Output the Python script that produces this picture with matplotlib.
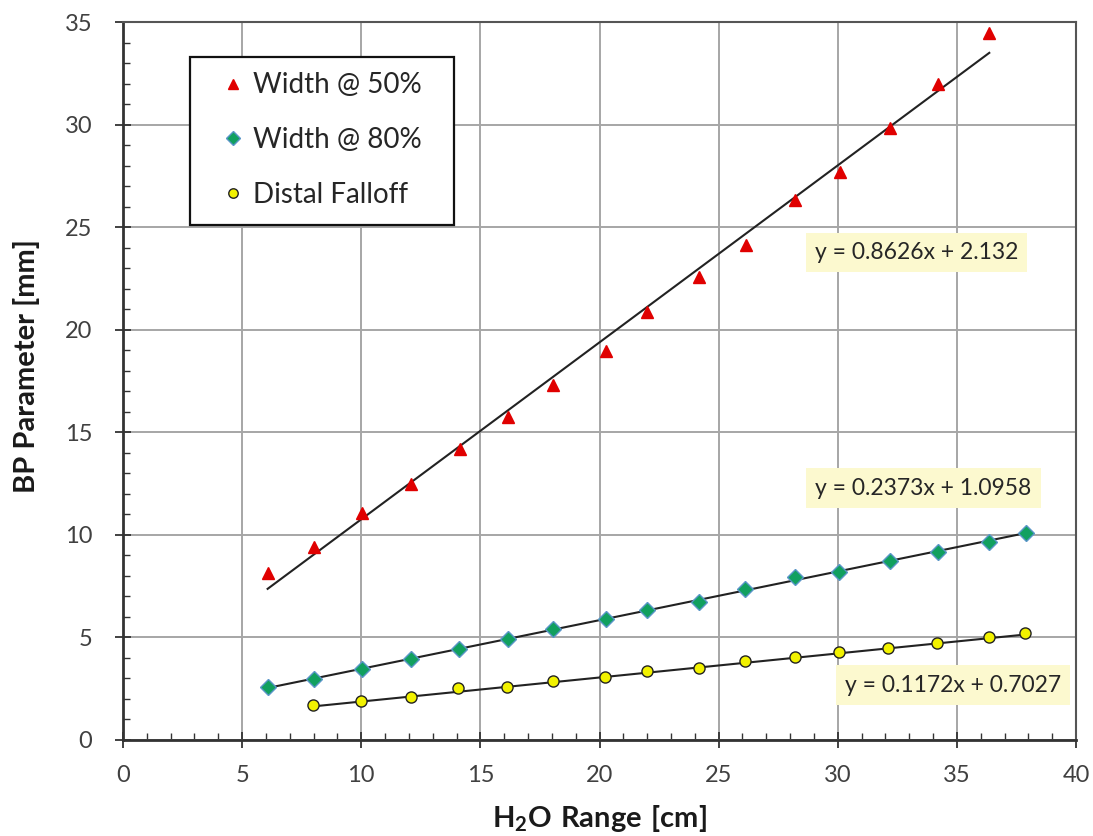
import numpy as np
import matplotlib
matplotlib.use("Agg")
import matplotlib.pyplot as plt
from matplotlib.ticker import MultipleLocator
from matplotlib.patches import Rectangle

# === DATA ===
x_50 = [6.07, 8.02, 10.02, 12.10, 14.15, 16.15, 18.06, 20.27, 22.00, 24.19,
        26.14, 28.20, 30.10, 32.20, 34.20, 36.36]
w_50 = [8.13, 9.42, 11.05, 12.48, 14.17, 15.73, 17.30, 18.98, 20.88, 22.59,
        24.13, 26.34, 27.70, 29.82, 32.00, 34.45]

x_80 = [6.07, 8.02, 10.05, 12.09, 14.10, 16.15, 18.06, 20.26, 22.00, 24.19,
        26.12, 28.20, 30.07, 32.19, 34.19, 36.35, 37.89]
w_80 = [2.57, 2.96, 3.45, 3.93, 4.42, 4.91, 5.40, 5.88, 6.34, 6.74,
        7.34, 7.93, 8.21, 8.73, 9.18, 9.67, 10.07]

x_df = [7.96, 9.99, 12.07, 14.07, 16.10, 18.03, 20.23, 21.98, 24.18, 26.10,
        28.20, 30.05, 32.12, 34.15, 36.35, 37.86]
dist = [1.71, 1.92, 2.11, 2.52, 2.60, 2.89, 3.09, 3.38, 3.49, 3.85,
        4.06, 4.27, 4.47, 4.74, 5.04, 5.23]

# Excel linear trendlines (slope, intercept)
slopes = [0.8626, 0.2373, 0.1172]
intercepts = [2.132, 1.0958, 0.7027]
eq_labels = ["y = 0.8626x + 2.132", "y = 0.2373x + 1.0958", "y = 0.1172x + 0.7027"]
series_names = ["Width @ 50%", "Width @ 80%", "Distal Falloff"]

# === PLOT ===
plt.rcParams["mathtext.fontset"] = "custom"
plt.rcParams["mathtext.bf"] = "Lato:bold"
plt.rcParams["mathtext.rm"] = "Lato"

fig = plt.figure(figsize=(10.93, 8.36), dpi=100)
ax = fig.add_axes([123 / 1093, 1 - 740 / 836, 953 / 1093, 718 / 836])

ax.set_xlim(0, 40)
ax.set_ylim(0, 35)
ax.xaxis.set_major_locator(MultipleLocator(5))
ax.xaxis.set_minor_locator(MultipleLocator(1))
ax.yaxis.set_major_locator(MultipleLocator(5))
ax.yaxis.set_minor_locator(MultipleLocator(1))
ax.grid(True, which="major", color="#a6a6a6", linewidth=1.4, zorder=0)
ax.set_axisbelow(True)

for side in ["left", "bottom"]:
    ax.spines[side].set_linewidth(2.0)
    ax.spines[side].set_color("#333333")
for side in ["top", "right"]:
    ax.spines[side].set_linewidth(1.5)
    ax.spines[side].set_color("#555555")

ax.tick_params(which="major", direction="inout", length=12, width=1.3, color="#333333")
ax.tick_params(which="minor", direction="in", length=5, width=1.0, color="#333333")
ax.tick_params(axis="x", labelsize=17, pad=12)
ax.tick_params(axis="y", labelsize=17, pad=16)
for lab in ax.get_xticklabels() + ax.get_yticklabels():
    lab.set_family("Lato")
    lab.set_color("#404040")

# trendlines
xs_all = [x_50, x_80, x_df]
for xs, m, b in zip(xs_all, slopes, intercepts):
    xx = np.array([min(xs), max(xs)])
    ax.plot(xx, m * xx + b, color="#222222", linewidth=1.5, zorder=2)

ax.plot(x_50, w_50, linestyle="none", marker="^", markersize=9,
        markerfacecolor="#e00000", markeredgecolor="#e00000",
        label=series_names[0], zorder=3)
ax.plot(x_80, w_80, linestyle="none", marker="D", markersize=8,
        markerfacecolor="#11a05f", markeredgecolor="#5a96c8", markeredgewidth=1.0,
        label=series_names[1], zorder=3)
ax.plot(x_df, dist, linestyle="none", marker="o", markersize=8,
        markerfacecolor="#f2f200", markeredgecolor="#222222", markeredgewidth=1.0,
        label=series_names[2], zorder=3)

# legend frame drawn by hand (Excel pads it wider than matplotlib does)
ax.add_patch(Rectangle((0.0703, 0.7173), 0.277, 0.234, transform=ax.transAxes,
                       facecolor="white", edgecolor="#111111", linewidth=1.6, zorder=5))
leg = ax.legend(loc="upper left", bbox_to_anchor=(0.104, 0.930),
                prop={"family": "Lato", "size": 20}, frameon=False,
                labelspacing=1.04, borderpad=0, handlelength=0.8,
                handletextpad=0.3, borderaxespad=0, markerscale=0.85)
leg.set_zorder(6)
for t in leg.get_texts():
    t.set_color("#262626")

# trendline equations
eq_pos = [(33.3, 23.77), (33.6, 12.28), (34.84, 2.68)]
for (ex, ey), s in zip(eq_pos, eq_labels):
    ax.text(ex, ey, s, fontsize=16.5, family="Lato", color="#262626",
            ha="center", va="center", zorder=4,
            bbox=dict(boxstyle="square,pad=0.4", facecolor="#fcf9cf", edgecolor="none"))

ax.set_xlabel(r"$\mathbf{H_2O\ Range\ [cm]}$", fontsize=21, color="#1a1a1a")
ax.xaxis.set_label_coords(0.5, -0.088)
ax.set_ylabel("BP Parameter [mm]", fontsize=21, fontweight="bold", family="Lato",
              color="#1a1a1a")
ax.yaxis.set_label_coords(-0.087, 0.521)

fig.savefig("out.png", dpi=100)
